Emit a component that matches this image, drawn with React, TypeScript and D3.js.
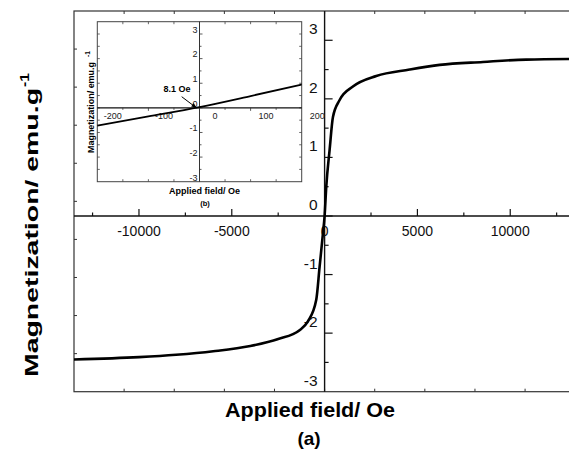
import React from "react";
import * as d3 from "d3";

// Hysteresis loop, main panel (a): applied field (Oe) vs magnetization (emu/g)
const loopField = [
  -13500, -10000, -8000, -6000, -4000, -2500, -1350, -900, -450, -270, -90, 0,
  90, 270, 450, 810, 1525, 2785, 4580, 6200, 8530, 10865, 13500,
];
const loopMagnetization = [
  -2.45, -2.41, -2.37, -2.31, -2.22, -2.1, -1.95, -1.8, -1.43, -0.87, -0.3, 0.0,
  0.5, 1.13, 1.69, 1.98, 2.21, 2.39, 2.5, 2.58, 2.63, 2.67, 2.68,
];

// Low-field detail, inset panel (b)
const insetField = [-200, -100, 0, 100, 200];
const insetMagnetization = [-0.72, -0.35, 0.03, 0.48, 0.95];

const mainXTicks = [-10000, -5000, 0, 5000, 10000];
const mainYTicks = [-3, -2, -1, 0, 1, 2, 3];
const insetXTicks = [-200, -100, 0, 100, 200];
const insetYTicks = [-3, -2, -1, 0, 1, 2, 3];
const coercivityLabel = "8.1 Oe";
const coercivityField = -6;

const W = 569;
const H = 457;
const FONT = "'Liberation Sans', Arial, Helvetica, sans-serif";

export default function App() {
  // main plot scales
  const x = d3.scaleLinear().domain([-13500, 13500]).range([74, 575.2]);
  const y = d3.scaleLinear().domain([-3, 3.5]).range([391.7, 11]);
  // frame (border) tick scales: ten divisions each way
  const frameX = d3.scaleLinear().domain([0, 10]).range(x.range());
  const frameY = d3.scaleLinear().domain([0, 10]).range(y.range());

  // inset scales
  const xi = d3.scaleLinear().domain([-200, 200]).range([97.3, 301.7]);
  const yi = d3.scaleLinear().domain([-3, 3.5]).range([181.7, 21.7]);
  const frameXi = d3.scaleLinear().domain([0, 8]).range(xi.range());

  const loop = loopField.map((f, i) => [f, loopMagnetization[i]] as [number, number]);
  const inset = insetField.map((f, i) => [f, insetMagnetization[i]] as [number, number]);

  const loopPath = d3
    .line<[number, number]>()
    .x((d) => x(d[0]))
    .y((d) => y(d[1]))
    .curve(d3.curveMonotoneX)(loop);
  const insetPath = d3
    .line<[number, number]>()
    .x((d) => xi(d[0]))
    .y((d) => yi(d[1]))
    .curve(d3.curveMonotoneX)(inset);

  const x0 = x(0);
  const y0 = y(0);
  const xi0 = xi(0);
  const yi0 = yi(0);

  const [L, R] = x.range();
  const [B, T] = y.range();
  const [iL, iR] = xi.range();
  const [iB, iT] = yi.range();

  const halfSteps = (a: number, b: number, s: number) => d3.range(a, b + 1e-9, s);

  // arrow from the annotation to the zero crossing
  const arrowTip: [number, number] = [xi(coercivityField), yi0];
  const arrowTail: [number, number] = [181.7, 96.7];
  const ang = Math.atan2(arrowTip[1] - arrowTail[1], arrowTip[0] - arrowTail[0]);
  const ah = 5;
  const aw = 2.2;
  const head = [
    arrowTip,
    [
      arrowTip[0] - ah * Math.cos(ang) + aw * Math.sin(ang),
      arrowTip[1] - ah * Math.sin(ang) - aw * Math.cos(ang),
    ],
    [
      arrowTip[0] - ah * Math.cos(ang) - aw * Math.sin(ang),
      arrowTip[1] - ah * Math.sin(ang) + aw * Math.cos(ang),
    ],
  ]
    .map((p) => p.join(","))
    .join(" ");

  return (
    <svg
      width={W}
      height={H}
      style={{ position: "absolute", left: 0, top: 0, background: "#fff" }}
      fontFamily={FONT}
    >
      <rect x={0} y={0} width={W} height={H} fill="#fff" />

      {/* main frame */}
      <rect x={L} y={T} width={R - L} height={B - T} fill="none" stroke="#333" strokeWidth={1.2} />
      {d3.range(1, 10).map((k) => (
        <g key={"fx" + k} stroke="#333" strokeWidth={1}>
          <line x1={frameX(k)} x2={frameX(k)} y1={T} y2={T + 3} />
          <line x1={frameX(k)} x2={frameX(k)} y1={B} y2={B - 3} />
        </g>
      ))}
      {d3.range(1, 10).map((k) => (
        <line key={"fy" + k} x1={L} x2={L + 3} y1={frameY(k)} y2={frameY(k)} stroke="#333" strokeWidth={1} />
      ))}

      {/* main axes through the origin */}
      <line x1={L} x2={R} y1={y0} y2={y0} stroke="#111" strokeWidth={1.4} />
      <line x1={x0} x2={x0} y1={T} y2={B} stroke="#111" strokeWidth={1.4} />
      {halfSteps(-12500, 12500, 2500).map((v) => {
        const major = v % 5000 === 0;
        return (
          <line key={"xt" + v} x1={x(v)} x2={x(v)} y1={y0} y2={y0 - (major ? 7 : 3.5)} stroke="#111" strokeWidth={1.2} />
        );
      })}
      {halfSteps(-2.5, 3, 0.5).map((v) => {
        const major = Number.isInteger(v);
        return (
          <line key={"yt" + v} x1={x0} x2={x0 + (major ? 8 : 4)} y1={y(v)} y2={y(v)} stroke="#111" strokeWidth={1.2} />
        );
      })}
      {mainXTicks.map((v) => (
        <text key={"xl" + v} x={x(v)} y={y0 + 20.5} fontSize={14} textAnchor="middle" fill="#111">
          {v}
        </text>
      ))}
      {mainYTicks.map((v) => (
        <text key={"yl" + v} x={x0 - 7} y={y(v) - 6} fontSize={15.5} textAnchor="end" fill="#111">
          {v}
        </text>
      ))}

      {/* hysteresis loop */}
      <path d={loopPath ?? ""} fill="none" stroke="#000" strokeWidth={2.6} strokeLinejoin="round" />

      {/* axis titles */}
      <text x={310} y={417.3} fontSize={20} fontWeight="bold" textAnchor="middle" textLength={170} lengthAdjust="spacingAndGlyphs">
        Applied field/ Oe
      </text>
      <text x={309} y={445} fontSize={19} fontWeight="bold" textAnchor="middle">
        (a)
      </text>
      <g transform="translate(38,377) rotate(-90)">
        <text x={0} y={0} fontSize={18.5} fontWeight="bold" textLength={289} lengthAdjust="spacingAndGlyphs">
          Magnetization/ emu.g
        </text>
        <text x={290} y={-9} fontSize={12} fontWeight="bold" textLength={14} lengthAdjust="spacingAndGlyphs">
          -1
        </text>
      </g>

      {/* inset panel (b) */}
      <rect x={iL} y={iT} width={iR - iL} height={iB - iT} fill="#fff" stroke="#444" strokeWidth={1} />
      {d3.range(1, 8).map((k) => (
        <g key={"ifx" + k} stroke="#444" strokeWidth={0.8}>
          <line x1={frameXi(k)} x2={frameXi(k)} y1={iT} y2={iT + 2.5} />
          <line x1={frameXi(k)} x2={frameXi(k)} y1={iB} y2={iB - 2.5} />
        </g>
      ))}
      {halfSteps(-2.5, 3, 0.5).map((v) => (
        <g key={"ify" + v} stroke="#444" strokeWidth={0.8}>
          <line x1={iL} x2={iL + 2.5} y1={yi(v)} y2={yi(v)} />
          <line x1={iR} x2={iR - 2.5} y1={yi(v)} y2={yi(v)} />
        </g>
      ))}
      <line x1={iL} x2={iR} y1={yi0} y2={yi0} stroke="#111" strokeWidth={1.2} />
      <line x1={xi0} x2={xi0} y1={iT} y2={iB} stroke="#333" strokeWidth={1} />
      {halfSteps(-150, 150, 50).map((v) => (
        <line key={"ixt" + v} x1={xi(v)} x2={xi(v)} y1={yi0} y2={yi0 + (v % 100 === 0 ? 3 : 2)} stroke="#333" strokeWidth={0.8} />
      ))}
      {halfSteps(-2.5, 3, 0.5).map((v) => (
        <line key={"iyt" + v} x1={xi0} x2={xi0 + (Number.isInteger(v) ? 3 : 2)} y1={yi(v)} y2={yi(v)} stroke="#333" strokeWidth={0.8} />
      ))}
      {insetXTicks.map((v) => (
        <text key={"ixl" + v} x={xi(v) + 15.5} y={yi0 + 11.5} fontSize={9} textAnchor="middle" fill="#222">
          {v}
        </text>
      ))}
      {insetYTicks.map((v) => (
        <text key={"iyl" + v} x={xi0 - 2} y={yi(v) - 1.2} fontSize={9} textAnchor="end" fill="#222">
          {v}
        </text>
      ))}
      <path d={insetPath ?? ""} fill="none" stroke="#000" strokeWidth={1.8} />

      {/* coercivity annotation */}
      <text x={177} y={92} fontSize={9} fontWeight="bold" textAnchor="middle">
        {coercivityLabel}
      </text>
      <line x1={arrowTail[0]} y1={arrowTail[1]} x2={arrowTip[0]} y2={arrowTip[1]} stroke="#000" strokeWidth={1} />
      <polygon points={head} fill="#000" />

      {/* inset titles */}
      <text x={204.5} y={194} fontSize={9} fontWeight="bold" textAnchor="middle" textLength={71} lengthAdjust="spacingAndGlyphs">
        Applied field/ Oe
      </text>
      <text x={205} y={206} fontSize={7.5} fontWeight="bold" textAnchor="middle">
        (b)
      </text>
      <g transform="translate(94,153) rotate(-90)">
        <text x={0} y={0} fontSize={9} fontWeight="bold" textLength={91} lengthAdjust="spacingAndGlyphs">
          Magnetization/ emu.g
        </text>
        <text x={96} y={-4} fontSize={6.5} fontWeight="bold">
          -1
        </text>
      </g>
    </svg>
  );
}
